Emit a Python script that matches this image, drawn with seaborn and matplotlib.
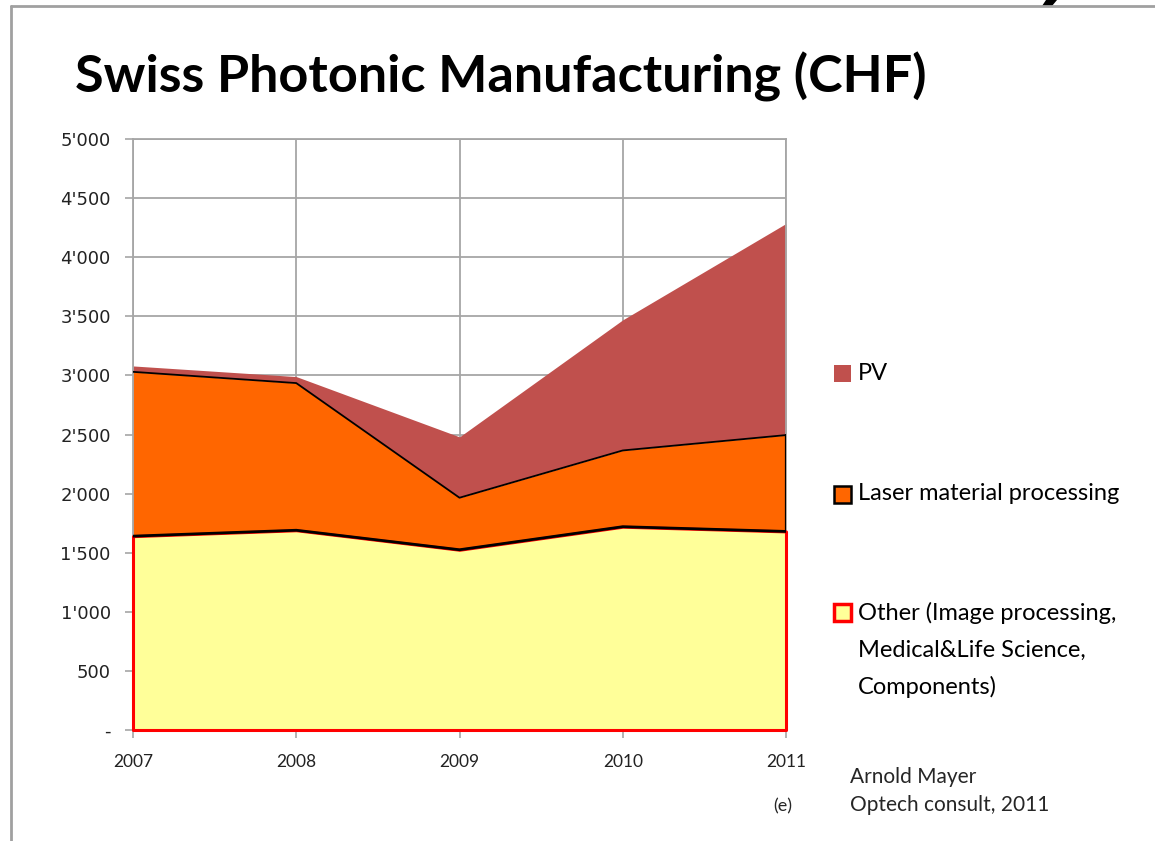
import numpy as np
import pandas as pd
import seaborn as sns
import matplotlib.pyplot as plt
from matplotlib.patches import Rectangle, Polygon
from matplotlib.lines import Line2D

# data (CHF, millions)
years = [2007, 2008, 2009, 2010, 2011]
other = [1640, 1690, 1525, 1720, 1680]
laser = [1390, 1245, 440, 645, 815]
pv = [50, 55, 515, 1105, 1790]
y_ticks = list(range(0, 5001, 500))

legend_labels = ["PV", "Laser material processing",
                 ["Other (Image processing,", "Medical&Life Science,", "Components)"]]
c_pv, c_laser, c_other = "#C0504D", "#FF6600", "#FFFF99"

sns.set_theme(style="whitegrid")
plt.rcParams['font.family'] = ['DejaVu Sans']

W, H = 1155, 841
fig = plt.figure(figsize=(W / 100, H / 100), dpi=100)


def fx(px):
    return px / W


def fy(py):
    return 1 - py / H


ax = fig.add_axes([fx(133), fy(730), fx(786) - fx(133), fy(139) - fy(730)])

df = pd.DataFrame({"year": years, "other": other, "laser": laser, "pv": pv})
df["top_other"] = df["other"]
df["top_laser"] = df["other"] + df["laser"]
df["top_pv"] = df["top_laser"] + df["pv"]

# stacked areas
ax.fill_between(df["year"], df["top_laser"], df["top_pv"], color=c_pv, lw=0, zorder=2)
ax.fill_between(df["year"], df["top_other"], df["top_laser"], color=c_laser, lw=0, zorder=2)
ax.fill_between(df["year"], 0, df["top_other"], facecolor=c_other, edgecolor="#FF0000",
                lw=2.2, zorder=3, clip_on=False)
sns.lineplot(data=df, x="year", y="top_laser", color="black", lw=1.3, ax=ax, zorder=4)
sns.lineplot(data=df, x="year", y="top_other", color="black", lw=2.0, ax=ax, zorder=4)
ax.plot([years[-1]] * 2, [df["top_other"].iloc[-1], df["top_laser"].iloc[-1]],
        color="black", lw=1.6, zorder=4)

ax.set_xlim(years[0], years[-1])
ax.set_ylim(0, 5000)
ax.set_xticks(years)
ax.set_yticks(y_ticks)
ax.set_yticklabels(["-" if v == 0 else f"{v:,}".replace(",", "'") for v in y_ticks],
                   fontsize=13, family="DejaVu Sans")
ax.set_xticklabels([str(y) for y in years], fontsize=12.5, family="Lato")
ax.set_xlabel("")
ax.set_ylabel("")
ax.set_axisbelow(True)
ax.grid(color="#A6A6A6", lw=1.3)
for s in ax.spines.values():
    s.set_color("#A6A6A6")
    s.set_linewidth(1.3)
ax.tick_params(axis="both", direction="out", length=6, width=1.2, color="#A6A6A6",
               bottom=True, left=True)
ax.tick_params(axis="y", pad=10, labelcolor="#222222")
ax.tick_params(axis="x", pad=11, labelcolor="#222222")

# title
fig.text(fx(75), fy(92), "Swiss Photonic Manufacturing (CHF)", family="Lato",
         fontweight="bold", fontsize=37.5, va="baseline", ha="left", color="black")

# legend drawn by hand to keep the wide spacing of the original
sq = 17
fig.patches.append(Rectangle((fx(834), fy(382)), sq / W, sq / H, transform=fig.transFigure,
                             facecolor=c_pv, edgecolor="none"))
fig.patches.append(Rectangle((fx(834), fy(503)), sq / W, sq / H, transform=fig.transFigure,
                             facecolor=c_laser, edgecolor="black", lw=1.8))
fig.patches.append(Rectangle((fx(834), fy(621)), sq / W, sq / H, transform=fig.transFigure,
                             facecolor=c_other, edgecolor="#FF0000", lw=2.5))
leg_kw = dict(family="Lato", fontsize=17, va="center", ha="left", color="black")
fig.text(fx(858), fy(374), legend_labels[0], **leg_kw)
fig.text(fx(858), fy(494), legend_labels[1], **leg_kw)
for i, line in enumerate(legend_labels[2]):
    fig.text(fx(858), fy(613 + 37 * i), line, **leg_kw)

# source
fig.text(fx(850), fy(777), "Arnold Mayer", family="Lato", fontsize=15, va="center")
fig.text(fx(850), fy(805), "Optech consult, 2011", family="Lato", fontsize=15, va="center")
fig.text(fx(783), fy(806), "(e)", family="Lato", fontsize=13, va="center", ha="center")

# slide frame and a cut-off glyph from the slide above
fig.add_artist(Line2D([fx(11), 1], [fy(6), fy(6)], color="#A0A0A0", lw=2))
fig.add_artist(Line2D([fx(11), fx(11)], [fy(6), 0], color="#A0A0A0", lw=2))
fig.patches.append(Polygon([(fx(1046), fy(0)), (fx(1057), fy(0)), (fx(1052), fy(6)),
                            (fx(1042), fy(6))], closed=True, transform=fig.transFigure,
                           facecolor="black", edgecolor="none"))

fig.savefig("out.png", dpi=100, facecolor="white")
